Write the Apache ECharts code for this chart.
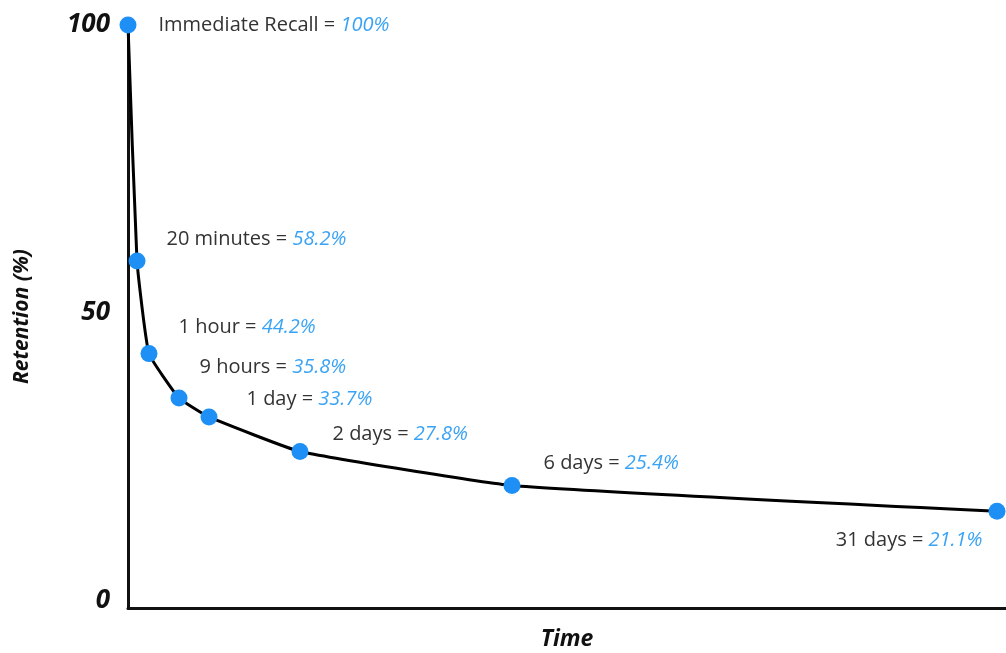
<!DOCTYPE html>
<html>
<head>
<meta charset="utf-8">
<script src="https://cdn.jsdelivr.net/npm/echarts@6/dist/echarts.min.js"></script>
<style>html,body{margin:0;padding:0;background:#fff}#c{width:1006px;height:653px}</style>
</head>
<body>
<div id="c"></div>
<script>
// Data
const timeLabels = ['Immediate Recall', '20 minutes', '1 hour', '9 hours', '1 day', '2 days', '6 days', '31 days'];
const statedRetention = ['100%', '58.2%', '44.2%', '35.8%', '33.7%', '27.8%', '25.4%', '21.1%'];
const timePosition = [0, 9, 21, 51, 81, 172, 384, 869];   // horizontal position along the (non-linear) time axis
const plottedRetention = [100, 59.0, 42.9, 35.2, 31.9, 25.9, 20.0, 15.5];
const yTickValues = [0, 50, 100];

// Layout only (label offsets relative to each point)
const labelLayout = [
  {pos: 'right', off: [22, 0]},
  {pos: 'right', off: [21, -22]},
  {pos: 'right', off: [21, -26]},
  {pos: 'right', off: [12, -31]},
  {pos: 'right', off: [29, -18]},
  {pos: 'right', off: [24, -17]},
  {pos: 'right', off: [23, -22]},
  {pos: 'left', off: [-6, 29]}
];

const seriesData = timePosition.map((x, i) => ({
  value: [x, plottedRetention[i]],
  label: {
    show: true,
    position: labelLayout[i].pos,
    distance: 0,
    offset: labelLayout[i].off,
    formatter: '{n|' + timeLabels[i] + ' = }{v|' + statedRetention[i] + '}'
  }
}));

const chart = echarts.init(document.getElementById('c'), null, {renderer: 'canvas'});
chart.setOption({
  animation: false,
  backgroundColor: '#fff',
  grid: {left: 128, right: 0, top: 25, bottom: 45, containLabel: false, outerBoundsMode: 'none'},
  xAxis: {
    type: 'value', min: 0, max: 878,
    name: 'Time', nameLocation: 'middle', nameGap: 20,
    nameTextStyle: {fontFamily: 'Open Sans', fontStyle: 'italic', fontWeight: 'bold', fontSize: 23, color: '#111', verticalAlign: 'top'},
    axisLine: {show: true, onZero: false, lineStyle: {color: '#111', width: 3}},
    axisTick: {show: false}, axisLabel: {show: false}, splitLine: {show: false}
  },
  yAxis: {
    type: 'value', min: -1.3, max: 100,
    name: 'Retention (%)', nameLocation: 'middle', nameGap: 95, nameRotate: 90,
    nameTextStyle: {fontFamily: 'Open Sans', fontStyle: 'italic', fontWeight: 'bold', fontSize: 21, color: '#111'},
    axisLine: {show: true, onZero: false, lineStyle: {color: '#111', width: 3}},
    axisTick: {show: false},
    axisLabel: {
      customValues: yTickValues, margin: 18,
      fontFamily: 'Open Sans', fontStyle: 'italic', fontWeight: 'bold', fontSize: 26, color: '#111'
    },
    splitLine: {show: false}
  },
  series: [{
    type: 'line',
    data: seriesData,
    smooth: 0.12,
    symbol: 'circle', symbolSize: 17,
    lineStyle: {color: '#000', width: 3},
    itemStyle: {color: '#1E90F5', borderWidth: 0},
    z: 3,
    label: {
      rich: {
        n: {fontFamily: 'Open Sans', fontSize: 20, color: '#333'},
        v: {fontFamily: 'Open Sans', fontSize: 20, fontStyle: 'italic', color: '#3AA3F5'}
      }
    }
  }]
});
</script>
</body>
</html>
